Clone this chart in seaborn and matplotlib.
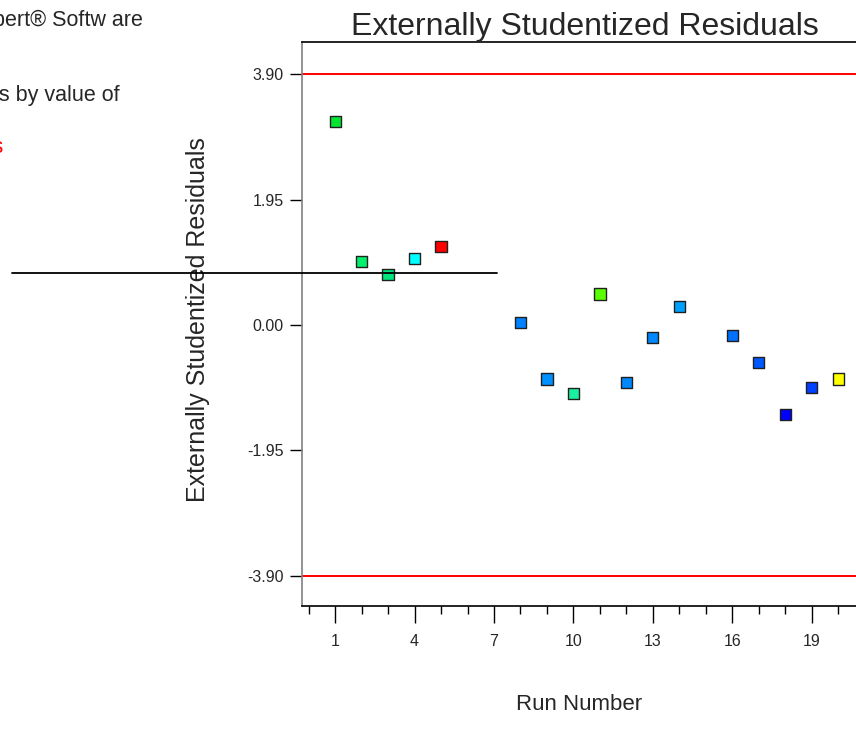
import matplotlib
matplotlib.use("Agg")
import matplotlib.pyplot as plt
import seaborn as sns
import pandas as pd

# values
runs = [1, 2, 3, 4, 5, 8, 9, 10, 11, 12, 13, 14, 16, 17, 18, 19, 20]
resid = [3.17, 0.99, 0.79, 1.03, 1.22, 0.04, -0.84, -1.07, 0.48, -0.89,
         -0.20, 0.29, -0.16, -0.58, -1.39, -0.97, -0.84]
point_colors = ["#00e632", "#00f06e", "#00e67d", "#00ffff", "#ff0000",
                "#0082ff", "#0091ff", "#19f0a0", "#5aff00", "#0088ff",
                "#0088ff", "#00a0ff", "#0070ff", "#0058ff", "#0000ff",
                "#0040ff", "#ffff00"]
limit = 3.90
y_ticks = [-3.90, -1.95, 0.00, 1.95, 3.90]
x_major = [1, 4, 7, 10, 13, 16, 19]
x_minor = list(range(0, 22))
marker_y = 0.81
marker_x = (-11.2, 7.1)

df = pd.DataFrame({"run": runs, "resid": resid, "id": [str(r) for r in runs]})

sns.set_style("white")
plt.rcParams["font.family"] = ["Liberation Sans", "DejaVu Sans"]

fig = plt.figure(figsize=(8.56, 7.31), dpi=100)
ax = fig.add_axes([302 / 856, 1 - 606 / 731, 576 / 856, 564 / 731])

ax.axhline(limit, color="red", lw=1.4, zorder=1)
ax.axhline(-limit, color="red", lw=1.4, zorder=1)

sns.scatterplot(data=df, x="run", y="resid", hue="id",
                palette=dict(zip(df["id"], point_colors)), marker="s",
                s=65, edgecolor="#202020", linewidth=1.0, legend=False,
                ax=ax, zorder=3)

ax.plot(marker_x, [marker_y, marker_y], color="black", lw=1.3,
        clip_on=False, zorder=4)

ax.set_xlim(-0.25, 21.5)
ax.set_ylim(-4.37, 4.40)
ax.set_yticks(y_ticks)
ax.set_yticklabels(["%.2f" % v for v in y_ticks], fontsize=11.5)
ax.set_xticks(x_major)
ax.set_xticks(x_minor, minor=True)
ax.set_xticklabels([str(v) for v in x_major], fontsize=11.5)
ax.tick_params(axis="y", which="major", direction="out", length=9,
               width=1, color="black", left=True, pad=4)
ax.tick_params(axis="x", which="major", direction="out", length=12,
               width=1, color="black", bottom=True, pad=8)
ax.tick_params(axis="x", which="minor", direction="out", length=6,
               width=1, color="black", bottom=True)

for side in ["top", "bottom"]:
    ax.spines[side].set_color("black")
    ax.spines[side].set_linewidth(1.2)
ax.spines["left"].set_color("#808080")
ax.spines["left"].set_linewidth(1.2)
ax.spines["right"].set_visible(False)

ax.set_title("Externally Studentized Residuals", fontsize=23, pad=2,
             x=(585 - 302) / 576)
ax.set_ylabel("Externally Studentized Residuals", fontsize=18, va="center")
ax.yaxis.set_label_coords((198 - 302) / 576, (606 - 320) / 564)
ax.set_xlabel("Run Number", fontsize=16, va="center")
ax.xaxis.set_label_coords((579 - 302) / 576, (606 - 705) / 564)

fig.text(143 / 856, 1 - 26 / 731, "Design-Expert® Softw are", ha="right",
         va="baseline", fontsize=15.5)
fig.text(120 / 856, 1 - 101 / 731, "Color points by value of", ha="right",
         va="baseline", fontsize=15.5)
fig.text(3 / 856, 1 - 153 / 731, "Externally Studentized Residuals",
         ha="right", va="baseline", fontsize=15.5, color="red")

fig.savefig("out.png", dpi=100)
